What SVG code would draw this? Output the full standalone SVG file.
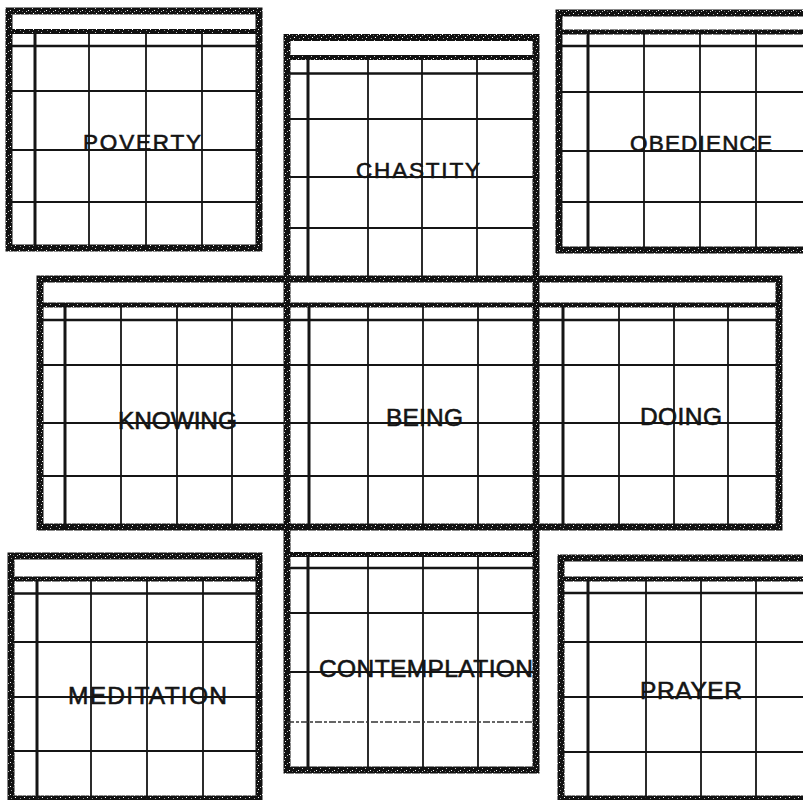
<svg xmlns="http://www.w3.org/2000/svg" width="803" height="800" viewBox="0 0 803 800">
<defs>
<pattern id="spk" width="9" height="8" patternUnits="userSpaceOnUse">
<rect width="9" height="8" fill="#111"/>
<rect x="1" y="2" width="1" height="1" fill="#fff"/>
<rect x="5" y="0" width="1" height="1" fill="#ccc"/>
<rect x="6" y="5" width="1" height="1" fill="#fff"/>
<rect x="2" y="6" width="1" height="1" fill="#999"/>
<rect x="8" y="3" width="1" height="1" fill="#bbb"/>
<rect x="4" y="3" width="1" height="1" fill="#666"/>
</pattern>
<style>
.b{fill:none;stroke:url(#spk);stroke-width:7}
.h{stroke:url(#spk);stroke-width:5}
.t{stroke:#151515;stroke-width:2.6}
.c1{stroke:#151515;stroke-width:3}
.g{stroke:#151515;stroke-width:1.8}
.gd{stroke:#333;stroke-width:1.3;stroke-dasharray:7 2 3 2}
.lbl{font-family:"Liberation Sans",Arial,Helvetica,sans-serif;fill:#141414;stroke:#141414;stroke-width:0.6}
.s1{font-size:22.5px}
.s2{font-size:24.5px}
</style>
</defs>
<rect width="803" height="800" fill="#fff"/>

<!-- column frame (CHASTITY / BEING / CONTEMPLATION) -->
<g id="frame-column">
<rect class="b" x="287" y="37.5" width="249" height="732.5"/>
</g>

<!-- row frame (KNOWING / BEING / DOING) -->
<g id="frame-row">
<rect class="b" x="40" y="279" width="739" height="248"/>
<line class="h" x1="40" y1="305" x2="779" y2="305"/>
<line class="t" x1="40" y1="320" x2="779" y2="320"/>
</g>

<g id="poverty">
<rect class="b" x="9" y="11" width="250" height="237"/>
<line class="h" x1="9" y1="31.5" x2="259" y2="31.5"/>
<line class="t" x1="9" y1="46" x2="259" y2="46"/>
<line class="c1" x1="35" y1="31.5" x2="35" y2="248"/>
<line class="g" x1="89" y1="31.5" x2="89" y2="248"/>
<line class="g" x1="146" y1="31.5" x2="146" y2="248"/>
<line class="g" x1="202" y1="31.5" x2="202" y2="248"/>
<line class="g" x1="9" y1="91" x2="259" y2="91"/>
<line class="g" x1="9" y1="150" x2="259" y2="150"/>
<line class="g" x1="9" y1="202" x2="259" y2="202"/>
<text class="lbl s1" x="83" y="150" textLength="118" lengthAdjust="spacing">POVERTY</text>
</g>

<g id="chastity">
<line class="h" x1="287" y1="57.5" x2="536" y2="57.5"/>
<line class="t" x1="287" y1="73.5" x2="536" y2="73.5"/>
<line class="c1" x1="308" y1="57.5" x2="308" y2="279"/>
<line class="g" x1="368" y1="57.5" x2="368" y2="279"/>
<line class="g" x1="422" y1="57.5" x2="422" y2="279"/>
<line class="g" x1="477" y1="57.5" x2="477" y2="279"/>
<line class="g" x1="287" y1="119" x2="536" y2="119"/>
<line class="g" x1="287" y1="177" x2="536" y2="177"/>
<line class="g" x1="287" y1="228" x2="536" y2="228"/>
<text class="lbl s1" x="356" y="178" textLength="124" lengthAdjust="spacing">CHASTITY</text>
</g>

<g id="obedience">
<path class="b" d="M830 13H559V250H830"/>
<line class="h" x1="559" y1="32" x2="803" y2="32"/>
<line class="t" x1="559" y1="46" x2="803" y2="46"/>
<line class="c1" x1="588" y1="32" x2="588" y2="250"/>
<line class="g" x1="644" y1="32" x2="644" y2="250"/>
<line class="g" x1="700" y1="32" x2="700" y2="250"/>
<line class="g" x1="756" y1="32" x2="756" y2="250"/>
<line class="g" x1="559" y1="92" x2="803" y2="92"/>
<line class="g" x1="559" y1="151" x2="803" y2="151"/>
<line class="g" x1="559" y1="202" x2="803" y2="202"/>
<text class="lbl s1" x="630" y="151" textLength="142" lengthAdjust="spacing">OBEDIENCE</text>
</g>

<g id="knowing">
<line class="c1" x1="65" y1="305" x2="65" y2="527"/>
<line class="g" x1="121" y1="305" x2="121" y2="527"/>
<line class="g" x1="177" y1="305" x2="177" y2="527"/>
<line class="g" x1="232" y1="305" x2="232" y2="527"/>
<line class="g" x1="40" y1="365" x2="287" y2="365"/>
<line class="g" x1="40" y1="423" x2="287" y2="423"/>
<line class="g" x1="40" y1="476" x2="287" y2="476"/>
<text class="lbl s2" x="118" y="429" textLength="119" lengthAdjust="spacing">KNOWING</text>
</g>

<g id="being">
<line class="c1" x1="309" y1="305" x2="309" y2="527"/>
<line class="g" x1="368" y1="305" x2="368" y2="527"/>
<line class="g" x1="423" y1="305" x2="423" y2="527"/>
<line class="g" x1="478" y1="305" x2="478" y2="527"/>
<line class="g" x1="287" y1="365" x2="536" y2="365"/>
<line class="g" x1="287" y1="423" x2="536" y2="423"/>
<line class="g" x1="287" y1="476" x2="536" y2="476"/>
<text class="lbl s2" x="386" y="426" textLength="77" lengthAdjust="spacing">BEING</text>
</g>

<g id="doing">
<line class="c1" x1="563" y1="305" x2="563" y2="527"/>
<line class="g" x1="619" y1="305" x2="619" y2="527"/>
<line class="g" x1="674" y1="305" x2="674" y2="527"/>
<line class="g" x1="728" y1="305" x2="728" y2="527"/>
<line class="g" x1="536" y1="365" x2="779" y2="365"/>
<line class="g" x1="536" y1="423" x2="779" y2="423"/>
<line class="g" x1="536" y1="476" x2="779" y2="476"/>
<text class="lbl s2" x="640" y="425" textLength="82" lengthAdjust="spacing">DOING</text>
</g>

<g id="meditation">
<rect class="b" x="11" y="556" width="248" height="243"/>
<line class="h" x1="11" y1="579" x2="259" y2="579"/>
<line class="t" x1="11" y1="593.5" x2="259" y2="593.5"/>
<line class="c1" x1="37" y1="579" x2="37" y2="799"/>
<line class="g" x1="91" y1="579" x2="91" y2="799"/>
<line class="g" x1="147" y1="579" x2="147" y2="799"/>
<line class="g" x1="203" y1="579" x2="203" y2="799"/>
<line class="g" x1="11" y1="642" x2="259" y2="642"/>
<line class="g" x1="11" y1="697" x2="259" y2="697"/>
<line class="g" x1="11" y1="751" x2="259" y2="751"/>
<text class="lbl s2" x="68" y="704" textLength="159" lengthAdjust="spacing">MEDITATION</text>
</g>

<g id="contemplation">
<line class="h" x1="287" y1="554.5" x2="536" y2="554.5"/>
<line class="t" x1="287" y1="568" x2="536" y2="568"/>
<line class="c1" x1="308" y1="554.5" x2="308" y2="770"/>
<line class="g" x1="368" y1="554.5" x2="368" y2="770"/>
<line class="g" x1="423" y1="554.5" x2="423" y2="770"/>
<line class="g" x1="478" y1="554.5" x2="478" y2="770"/>
<line class="g" x1="287" y1="613" x2="536" y2="613"/>
<line class="g" x1="287" y1="672" x2="536" y2="672"/>
<line class="gd" x1="287" y1="722" x2="536" y2="722"/>
<text class="lbl s2" x="319" y="677" textLength="214" lengthAdjust="spacing">CONTEMPLATION</text>
</g>

<g id="prayer">
<path class="b" d="M830 558H561V802"/>
<line class="b" x1="561" y1="799" x2="830" y2="799"/>
<line class="h" x1="561" y1="579" x2="803" y2="579"/>
<line class="t" x1="561" y1="593" x2="803" y2="593"/>
<line class="c1" x1="588" y1="579" x2="588" y2="799"/>
<line class="g" x1="646" y1="579" x2="646" y2="799"/>
<line class="g" x1="701" y1="579" x2="701" y2="799"/>
<line class="g" x1="756" y1="579" x2="756" y2="799"/>
<line class="g" x1="561" y1="642" x2="803" y2="642"/>
<line class="g" x1="561" y1="697" x2="803" y2="697"/>
<line class="g" x1="561" y1="752" x2="803" y2="752"/>
<text class="lbl s2" x="640" y="699" textLength="102" lengthAdjust="spacing">PRAYER</text>
</g>

<g id="connectors"></g>
</svg>
